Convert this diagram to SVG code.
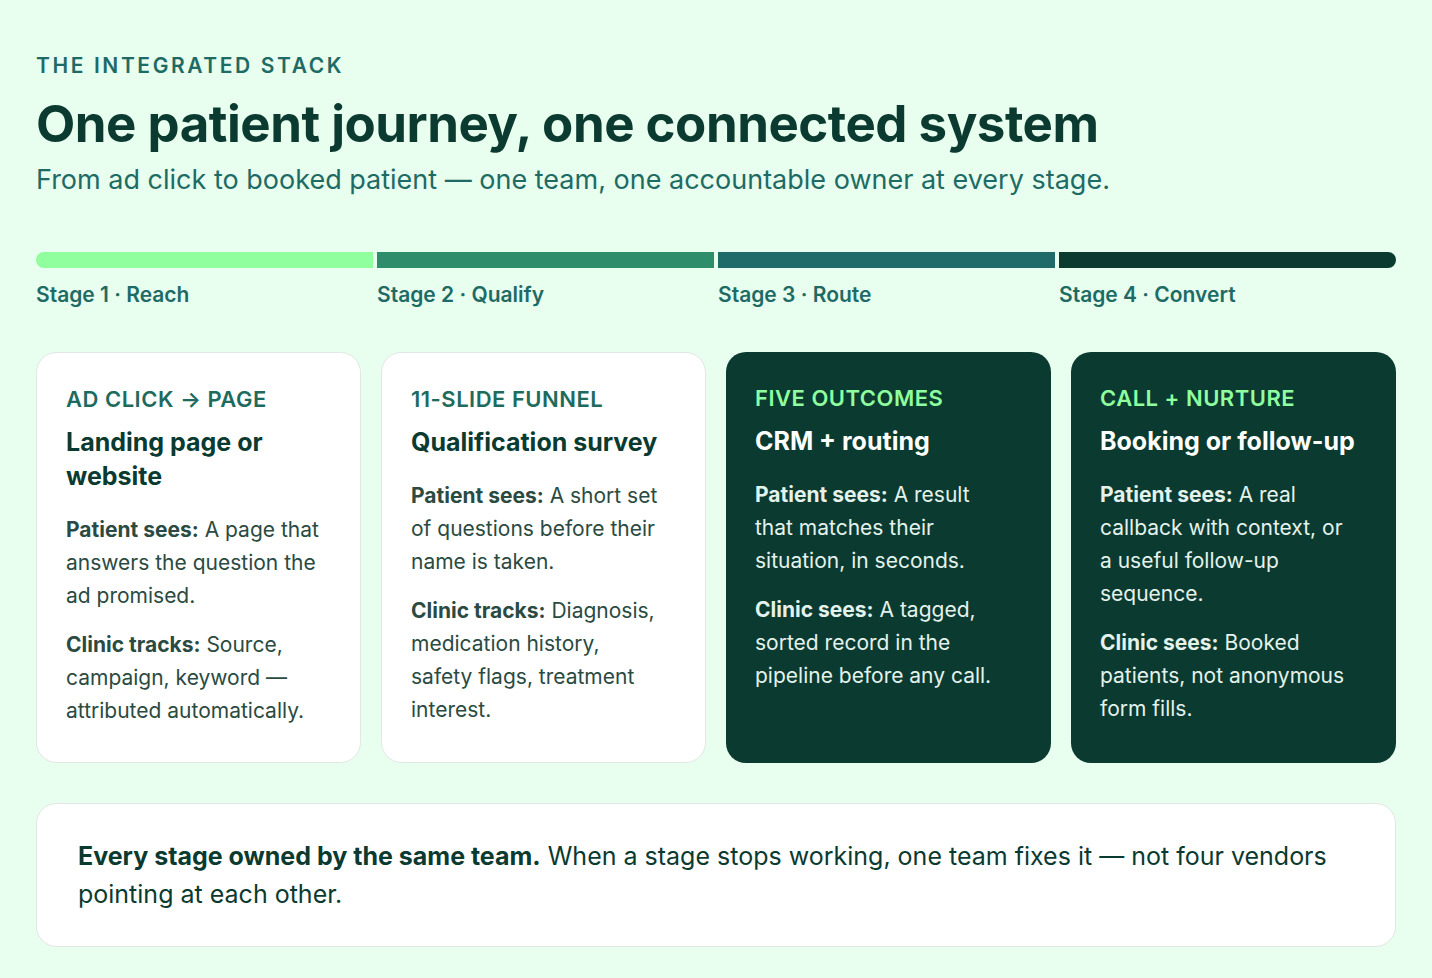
<svg xmlns="http://www.w3.org/2000/svg" width="1432" height="978" viewBox="0 0 1432 978">
<style>
text{font-family:"Inter","Noto Sans","Liberation Sans",sans-serif}
.eyebrow{font-size:22px;font-weight:600;letter-spacing:.5px}
.ttl{font-size:25px;font-weight:700}
.body{font-size:21px}
.b{font-weight:700}
.lt .eyebrow{fill:#1E6B5E}.lt .ttl{fill:#0B3A30}.lt .body{fill:#2A4A42}
.dk .eyebrow{fill:#8FFF9F}.dk .ttl{fill:#FFFFFF}.dk .body{fill:#E4F2EC}
.stg{font-size:21px;font-weight:600;fill:#1E6B65}
</style>
<rect width="1432" height="978" fill="#E8FEEE"/>
<text x="36" y="73" font-size="21" font-weight="600" letter-spacing="2.6" fill="#1E6B65">THE INTEGRATED STACK</text>
<text x="36" y="142" font-size="51" font-weight="700" fill="#0B3A30" letter-spacing="-0.5">One patient journey, one connected system</text>
<text x="36" y="189" font-size="27" fill="#1E6B65">From ad click to booked patient — one team, one accountable owner at every stage.</text>
<g id="stages">
<path d="M44 252H373V268H44A8 8 0 0 1 44 252Z" fill="#90FF9E"/>
<rect x="377" y="252" width="337" height="16" fill="#2E8E6C"/>
<rect x="718" y="252" width="337" height="16" fill="#1E6B6A"/>
<path d="M1059 252H1388A8 8 0 0 1 1388 268H1059Z" fill="#0B3A30"/>
<text class="stg" x="36" y="302">Stage 1 · Reach</text>
<text class="stg" x="377" y="302">Stage 2 · Qualify</text>
<text class="stg" x="718" y="302">Stage 3 · Route</text>
<text class="stg" x="1059" y="302">Stage 4 · Convert</text>
</g>
<g id="card1" class="lt">
<rect x="36.5" y="352.5" width="324" height="410" rx="20" fill="#fff" stroke="#E2E6E4"/>
<text class="eyebrow" x="66" y="407">AD CLICK → PAGE</text>
<text class="ttl" x="66" y="451">Landing page or</text>
<text class="ttl" x="66" y="485">website</text>
<text class="body" x="66" y="537"><tspan class="b">Patient sees:</tspan> A page that</text>
<text class="body" x="66" y="570">answers the question the</text>
<text class="body" x="66" y="603">ad promised.</text>
<text class="body" x="66" y="652"><tspan class="b">Clinic tracks:</tspan> Source,</text>
<text class="body" x="66" y="685">campaign, keyword —</text>
<text class="body" x="66" y="718">attributed automatically.</text>
</g>
<g id="card2" class="lt">
<rect x="381.5" y="352.5" width="324" height="410" rx="20" fill="#fff" stroke="#E2E6E4"/>
<text class="eyebrow" x="411" y="407">11-SLIDE FUNNEL</text>
<text class="ttl" x="411" y="451">Qualification survey</text>
<text class="body" x="411" y="503"><tspan class="b">Patient sees:</tspan> A short set</text>
<text class="body" x="411" y="536">of questions before their</text>
<text class="body" x="411" y="569">name is taken.</text>
<text class="body" x="411" y="618"><tspan class="b">Clinic tracks:</tspan> Diagnosis,</text>
<text class="body" x="411" y="651">medication history,</text>
<text class="body" x="411" y="684">safety flags, treatment</text>
<text class="body" x="411" y="717">interest.</text>
</g>
<g id="card3" class="dk">
<rect x="726" y="352" width="325" height="411" rx="20" fill="#0B3A30"/>
<text class="eyebrow" x="755" y="406">FIVE OUTCOMES</text>
<text class="ttl" x="755" y="450">CRM + routing</text>
<text class="body" x="755" y="502"><tspan class="b">Patient sees:</tspan> A result</text>
<text class="body" x="755" y="535">that matches their</text>
<text class="body" x="755" y="568">situation, in seconds.</text>
<text class="body" x="755" y="617"><tspan class="b">Clinic sees:</tspan> A tagged,</text>
<text class="body" x="755" y="650">sorted record in the</text>
<text class="body" x="755" y="683">pipeline before any call.</text>
</g>
<g id="card4" class="dk">
<rect x="1071" y="352" width="325" height="411" rx="20" fill="#0B3A30"/>
<text class="eyebrow" x="1100" y="406">CALL + NURTURE</text>
<text class="ttl" x="1100" y="450">Booking or follow-up</text>
<text class="body" x="1100" y="502"><tspan class="b">Patient sees:</tspan> A real</text>
<text class="body" x="1100" y="535">callback with context, or</text>
<text class="body" x="1100" y="568">a useful follow-up</text>
<text class="body" x="1100" y="601">sequence.</text>
<text class="body" x="1100" y="650"><tspan class="b">Clinic sees:</tspan> Booked</text>
<text class="body" x="1100" y="683">patients, not anonymous</text>
<text class="body" x="1100" y="716">form fills.</text>
</g>
<g id="footer">
<rect x="36.5" y="803.5" width="1359" height="143" rx="20" fill="#fff" stroke="#E2E6E4"/>
<text x="78" y="865" font-size="25" fill="#0B3A30"><tspan font-weight="700">Every stage owned by the same team.</tspan> When a stage stops working, one team fixes it — not four vendors</text>
<text x="78" y="903" font-size="25" fill="#0B3A30">pointing at each other.</text>
</g>
<g id="connectors"/>
</svg>
